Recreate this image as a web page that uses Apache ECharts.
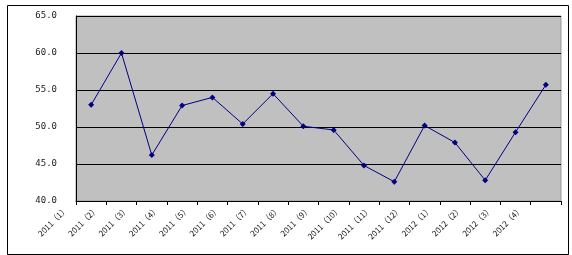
<!DOCTYPE html>
<html>
<head>
<meta charset="utf-8">
<script src="https://cdn.jsdelivr.net/npm/echarts@6/dist/echarts.min.js"></script>
<style>html,body{margin:0;padding:0;background:#fff}#c{width:572px;height:255px}</style>
</head>
<body>
<div id="c"></div>
<script>
var categories = ['2011（1）','2011（2）','2011（3）','2011（4）','2011（5）','2011（6）','2011（7）','2011（8）','2011（9）','2011（10）','2011（11）','2011（12）','2012（1）','2012（2）','2012（3）','2012（4）'];
var values = [53.0, 60.0, 46.2, 52.9, 54.0, 50.4, 54.5, 50.1, 49.6, 44.8, 42.6, 50.2, 47.9, 42.8, 49.3, 55.7];
var yMin = 40, yMax = 65, yStep = 5;

var chart = echarts.init(document.getElementById('c'), null, {renderer: 'canvas'});
chart.setOption({
  animation: false,
  backgroundColor: '#ffffff',
  graphic: [{
    type: 'rect', left: 5, top: 3, z: -1,
    shape: {width: 561, height: 249},
    style: {fill: 'none', stroke: '#000', lineWidth: 1}
  }],
  grid: {
    left: 76, top: 16, right: 11, bottom: 54,
    show: true, backgroundColor: '#C0C0C0', borderColor: '#9a9a9a', borderWidth: 1
  },
  xAxis: {
    type: 'category', data: categories, boundaryGap: true,
    axisLine: {lineStyle: {color: '#000', width: 1}},
    axisTick: {show: true, length: 4, lineStyle: {color: '#000'}},
    axisLabel: {
      rotate: 45, interval: 0, margin: -18,
      fontFamily: 'Noto Sans CJK SC', fontSize: 8, color: '#111',
      padding: [0, 35, 0, 0]
    }
  },
  yAxis: {
    type: 'value', min: yMin, max: yMax, interval: yStep,
    axisLine: {show: true, lineStyle: {color: '#000', width: 1}},
    axisTick: {show: false},
    splitLine: {show: true, lineStyle: {color: '#000', width: 1}},
    axisLabel: {
      margin: 19, fontFamily: 'DejaVu Sans Mono', fontSize: 9, color: '#222',
      formatter: function (v) { return v.toFixed(1); }
    }
  },
  series: [{
    type: 'line', data: values,
    symbol: 'diamond', symbolSize: 6,
    itemStyle: {color: '#000080'},
    lineStyle: {color: '#000080', width: 1}
  }]
});
</script>
</body>
</html>
